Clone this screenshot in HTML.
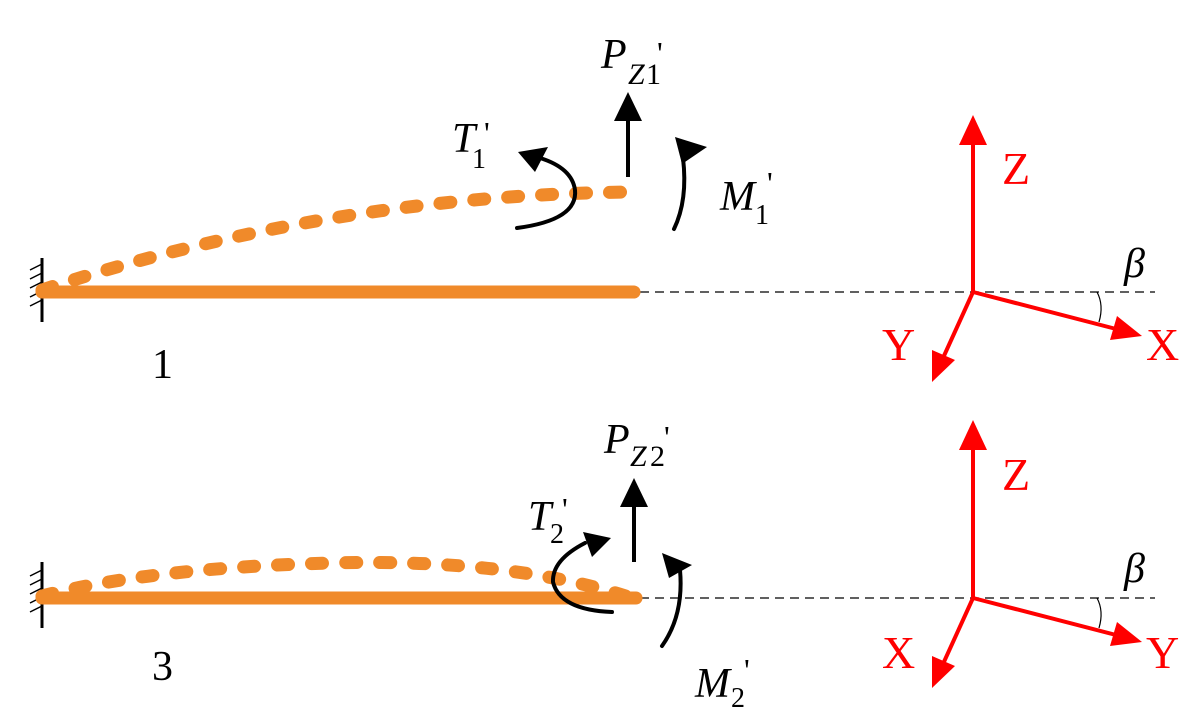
<!DOCTYPE html>
<html><head><meta charset="utf-8"><style>
html,body{margin:0;padding:0;background:#fff;}
svg{display:block;}
</style></head><body>
<svg width="1191" height="717" viewBox="0 0 1191 717" xmlns="http://www.w3.org/2000/svg" font-family="'Liberation Serif', 'Times New Roman', serif">
<!-- TOP -->
<line x1="42" y1="258" x2="42" y2="322" stroke="#000" stroke-width="3"/>
<g stroke="#000" stroke-width="1.5">
<line x1="42" y1="264" x2="30" y2="270"/><line x1="42" y1="273" x2="30" y2="279"/><line x1="42" y1="282" x2="30" y2="288"/><line x1="42" y1="291" x2="30" y2="297"/><line x1="42" y1="300" x2="30" y2="306"/>
</g>
<line x1="640" y1="292" x2="1155" y2="292" stroke="#000" stroke-width="1.2" stroke-dasharray="9,6"/>
<line x1="42" y1="292" x2="634" y2="292" stroke="#f08a2a" stroke-width="13" stroke-linecap="round"/>
<path d="M42,290 Q330,195 632,192" fill="none" stroke="#f08a2a" stroke-width="13" stroke-linecap="round" stroke-dasharray="11,23"/>
<line x1="628" y1="177" x2="628" y2="115" stroke="#000" stroke-width="4"/>
<polygon points="628,92 614,121 642,121" fill="#000"/>
<path d="M517,228 Q578,220 575,190 Q572,168 540,158" fill="none" stroke="#000" stroke-width="4" stroke-linecap="round"/>
<polygon points="518,152 548,147 535,172" fill="#000"/>
<path d="M674,229 Q688,200 683,158" fill="none" stroke="#000" stroke-width="4" stroke-linecap="round"/>
<polygon points="675,137 707,147 682,164" fill="#000"/>
<text x="601" y="68" font-size="42" font-style="italic">P</text>
<text x="628" y="84" font-size="30" font-style="italic">Z</text><text x="646" y="84" font-size="30">1</text>
<text x="657" y="64" font-size="32">'</text>
<text x="452" y="152" font-size="42" font-style="italic">T</text>
<text x="472" y="168" font-size="28">1</text><text x="484" y="144" font-size="32">'</text>
<text x="720" y="210" font-size="42" font-style="italic">M</text>
<text x="755" y="224" font-size="28">1</text><text x="767" y="194" font-size="32">'</text>
<text x="152" y="378" font-size="42">1</text>
<!-- axes top -->
<g stroke="#f00" stroke-width="4" fill="none">
<line x1="973" y1="292" x2="973" y2="140"/>
<line x1="973" y1="292" x2="1120" y2="330"/>
<line x1="973" y1="292" x2="943" y2="358"/>
</g>
<polygon points="973,115 959,145 987,145" fill="#f00"/>
<polygon points="1142,336 1110,340 1117,316" fill="#f00"/>
<polygon points="932,382 932,350 955,360" fill="#f00"/>
<path d="M1097,292 Q1104,305 1099,322" fill="none" stroke="#000" stroke-width="1.2"/>
<text x="1002" y="184" font-size="46" fill="#f00">Z</text>
<text x="882" y="360" font-size="46" fill="#f00">Y</text>
<text x="1146" y="360" font-size="46" fill="#f00">X</text>
<text x="1124" y="277" font-size="42" font-style="italic">β</text>
<!-- BOTTOM -->
<line x1="42" y1="562" x2="42" y2="628" stroke="#000" stroke-width="3"/>
<g stroke="#000" stroke-width="1.5">
<line x1="42" y1="570" x2="30" y2="576"/><line x1="42" y1="579" x2="30" y2="585"/><line x1="42" y1="588" x2="30" y2="594"/><line x1="42" y1="597" x2="30" y2="603"/><line x1="42" y1="606" x2="30" y2="612"/>
</g>
<line x1="640" y1="598" x2="1155" y2="598" stroke="#000" stroke-width="1.2" stroke-dasharray="9,6"/>
<line x1="42" y1="598" x2="636" y2="598" stroke="#f08a2a" stroke-width="13" stroke-linecap="round"/>
<path d="M42,596 Q150,568 330,563 Q510,558 632,598" fill="none" stroke="#f08a2a" stroke-width="13" stroke-linecap="round" stroke-dasharray="11,23"/>
<line x1="634" y1="562" x2="634" y2="500" stroke="#000" stroke-width="4"/>
<polygon points="634,478 620,507 648,507" fill="#000"/>
<path d="M612,612 Q560,610 553,582 Q552,560 585,543" fill="none" stroke="#000" stroke-width="4" stroke-linecap="round"/>
<polygon points="611,538 583,532 592,557" fill="#000"/>
<path d="M662,646 Q684,615 680,570" fill="none" stroke="#000" stroke-width="4" stroke-linecap="round"/>
<polygon points="662,553 692,565 669,578" fill="#000"/>
<text x="604" y="453" font-size="42" font-style="italic">P</text>
<text x="630" y="466" font-size="30" font-style="italic">Z</text><text x="650" y="466" font-size="30">2</text>
<text x="664" y="448" font-size="32">'</text>
<text x="528" y="530" font-size="42" font-style="italic">T</text>
<text x="550" y="543" font-size="28">2</text><text x="562" y="520" font-size="32">'</text>
<text x="695" y="697" font-size="42" font-style="italic">M</text>
<text x="731" y="707" font-size="28">2</text><text x="744" y="681" font-size="32">'</text>
<text x="152" y="680" font-size="42">3</text>
<!-- axes bottom -->
<g stroke="#f00" stroke-width="4" fill="none">
<line x1="973" y1="598" x2="973" y2="445"/>
<line x1="973" y1="598" x2="1120" y2="636"/>
<line x1="973" y1="598" x2="943" y2="664"/>
</g>
<polygon points="973,420 959,450 987,450" fill="#f00"/>
<polygon points="1142,642 1110,646 1117,622" fill="#f00"/>
<polygon points="932,688 932,656 955,666" fill="#f00"/>
<path d="M1097,598 Q1104,611 1099,628" fill="none" stroke="#000" stroke-width="1.2"/>
<text x="1002" y="490" font-size="46" fill="#f00">Z</text>
<text x="882" y="668" font-size="46" fill="#f00">X</text>
<text x="1146" y="668" font-size="46" fill="#f00">Y</text>
<text x="1124" y="582" font-size="42" font-style="italic">β</text>
</svg>
</body></html>
